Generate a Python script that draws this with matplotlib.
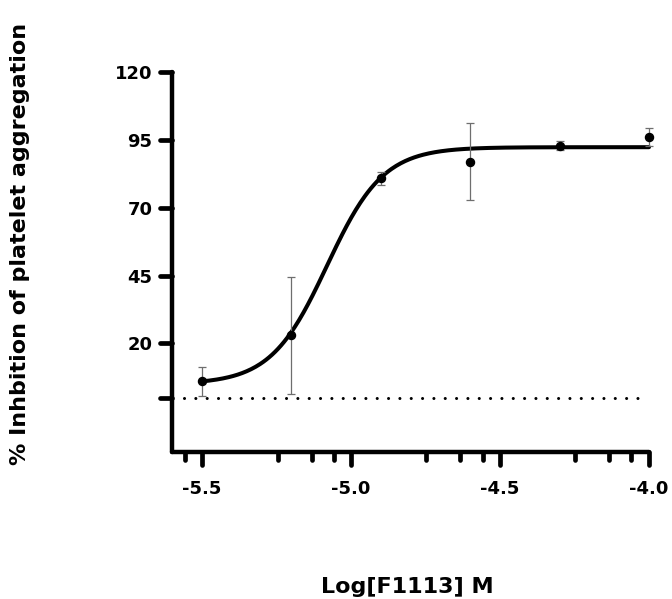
import numpy as np
import matplotlib
matplotlib.use("Agg")
import matplotlib.pyplot as plt
from matplotlib.markers import MarkerStyle

# ── data ──────────────────────────────────────────────────────────────────────
log_conc   = [-5.5, -5.2, -4.9, -4.6, -4.3, -4.0]
inhibition = [6.1, 23.0, 80.9, 87.0, 92.9, 96.1]
sem        = [5.3, 21.6, 2.4, 14.2, 1.6, 3.2]

# 4-parameter logistic fit drawn by the original software
fit_bottom, fit_top, fit_logec50, fit_hill = 5.0, 92.3, -5.08, 4.6

x_major = [-5.5, -5.0, -4.5, -4.0]
x_major_labels = ["-5.5", "-5.0", "-4.5", "-4.0"]
x_minor = [-5.556, -5.244, -5.130, -5.056, -4.747, -4.633, -4.558,
           -4.248, -4.133, -4.059]
y_ticks = [0, 20, 45, 70, 95, 120]
y_tick_labels = ["", "20", "45", "70", "95", "120"]
baseline_span = (-5.56, -4.03)

# ── figure ────────────────────────────────────────────────────────────────────
fig = plt.figure(figsize=(6.72, 5.99), dpi=100, facecolor="white")
ax = fig.add_axes([172/672, 1-452/599, 477/672, 380/599])

xs = np.linspace(log_conc[0], log_conc[-1], 300)
fit = fit_bottom + (fit_top - fit_bottom) / (1 + 10 ** ((fit_logec50 - xs) * fit_hill))
ax.plot(xs, fit, color="black", lw=2.9, solid_capstyle="round", clip_on=False, zorder=3)

ax.errorbar(log_conc, inhibition, yerr=sem, fmt="o", color="black", ms=5.8,
            ecolor="#6e6e6e", elinewidth=0.9, capsize=2.9, capthick=0.9,
            clip_on=False, zorder=4)

# dotted zero baseline
ax.hlines(0, *baseline_span, colors="black", lw=2.2,
          linestyles=[(0, (0.01, 3.7))], capstyle="round")

ax.set_xlim(-5.6, -4.0)
ax.set_ylim(-20, 120)

for side in ["top", "right"]:
    ax.spines[side].set_visible(False)
for side in ["left", "bottom"]:
    ax.spines[side].set_linewidth(3.2)
    ax.spines[side].set_capstyle("round")

ax.set_xticks(x_major)
ax.set_xticklabels(x_major_labels)
ax.set_xticks(x_minor, minor=True)
ax.set_yticks(y_ticks)
ax.set_yticklabels(y_tick_labels)

ax.tick_params(axis="x", which="major", length=9.5, width=3.4, pad=11,
               labelsize=13)
ax.tick_params(axis="x", which="minor", length=5.8, width=3.4)
ax.tick_params(axis="y", which="major", length=8.6, width=3.4, pad=5.5,
               labelsize=13)
for lab in ax.get_xticklabels() + ax.get_yticklabels():
    lab.set_fontweight("bold")

# rounded tick ends, like the spines
for tl in (ax.xaxis.get_ticklines() + ax.xaxis.get_ticklines(minor=True)
           + ax.yaxis.get_ticklines()):
    tl.set_marker(MarkerStyle(tl.get_marker(), capstyle="round"))

fig.text(20/672, 1-244/599, "% Inhbition of platelet aggregation", rotation=90,
         ha="center", va="center", fontsize=16, fontweight="bold")
fig.text(407/672, 1-593/599, "Log[F1113] M", ha="center", va="baseline",
         fontsize=16, fontweight="bold")

fig.savefig("out.png", dpi=100, facecolor="white")
